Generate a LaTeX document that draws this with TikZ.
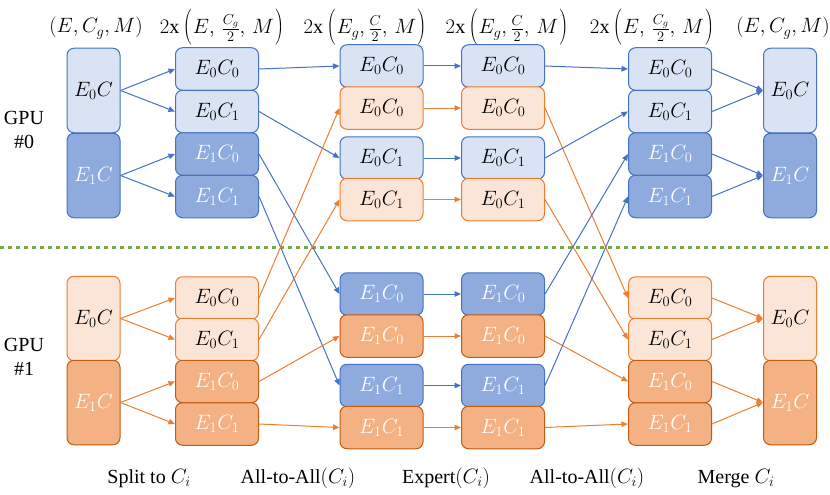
\documentclass[tikz,border=0pt]{standalone}
\usepackage{fontspec}
\setmainfont{Liberation Serif}
\usetikzlibrary{arrows.meta}
\definecolor{bl}{HTML}{4472C4}
\definecolor{lbfill}{HTML}{DAE3F3}
\definecolor{dbfill}{HTML}{8FAADC}
\definecolor{org}{HTML}{ED7D31}
\definecolor{lofill}{HTML}{FBE5D6}
\definecolor{dofill}{HTML}{F4B183}
\definecolor{dob}{HTML}{C55A11}
\definecolor{grn}{HTML}{70AD47}
\newcommand{\tallL}{\raisebox{2pt}{$\left(\vrule height 24.2pt depth 13.8pt width 0pt\right.$}}
\newcommand{\tallR}{\raisebox{2pt}{$\left.\vrule height 24.2pt depth 13.8pt width 0pt\right)$}}
\begin{document}
\begin{tikzpicture}[x=1pt,y=-1pt,
  box/.style={draw, rounded corners=7pt, line width=1pt, inner sep=0pt,
    minimum width=83pt, minimum height=42.5pt, font=\fontsize{20}{24}\selectfont},
  tall/.style={box, minimum width=53pt, minimum height=84.5pt},
  lb/.style={fill=lbfill, draw=bl, text=black},
  db/.style={fill=dbfill, draw=bl, text=white},
  lo/.style={fill=lofill, draw=org, text=black},
  do/.style={fill=dofill, draw=dob, text=white},
  ab/.style={draw=bl, line width=1pt, -{Triangle[length=6.5pt,width=5.5pt]}},
  ao/.style={draw=org, line width=1pt, -{Triangle[length=6.5pt,width=5.5pt]}},
  lbl/.style={font=\fontsize{20}{24}\selectfont, inner sep=0pt},
  hd/.style={lbl, anchor=base}
]
\useasboundingbox (0,0) rectangle (830,495);

% headers
\node[hd] (h1) at (96,33) {$(E,C_g,M)$};
\node[hd] (h2) at (222,34) {$2\mathrm{x}$\,\tallL$E,\,\frac{C_g}{2},\,M$\tallR};
\node[hd] (h3) at (365,34) {$2\mathrm{x}$\,\tallL$E_g,\frac{C}{2},\,M$\tallR};
\node[hd] (h4) at (507,34) {$2\mathrm{x}$\,\tallL$E_g,\frac{C}{2},\,M$\tallR};
\node[hd] (h5) at (652,34) {$2\mathrm{x}$\,\tallL$E,\,\frac{C_g}{2},\,M$\tallR};
\node[hd] (h6) at (783,33) {$(E,C_g,M)$};

% GPU labels
\node[lbl, align=center] (g0) at (24,130) {GPU\\\#0};
\node[lbl, align=center] (g1) at (24,357) {GPU\\\#1};

% separator
\draw[grn, line width=3pt, dash pattern=on 4pt off 4pt] (0,247) -- (830,247);

% column 1
\node[tall,lb] (a1) at (93.5,90.5) {$E_0C$};
\node[tall,db] (a2) at (93.5,175.5) {$E_1C$};
\node[tall,lo] (a3) at (93.5,318.5) {$E_0C$};
\node[tall,do] (a4) at (93.5,402.5) {$E_1C$};

% column 2
\node[box,lb] (b1) at (217,69) {$E_0C_0$};
\node[box,lb] (b2) at (217,111.5) {$E_0C_1$};
\node[box,db] (b3) at (217,154) {$E_1C_0$};
\node[box,db] (b4) at (217,196.5) {$E_1C_1$};
\node[box,lo] (b5) at (217,298) {$E_0C_0$};
\node[box,lo] (b6) at (217,339.5) {$E_0C_1$};
\node[box,do] (b7) at (217,381.5) {$E_1C_0$};
\node[box,do] (b8) at (217,424) {$E_1C_1$};

% column 3
\node[box,lb] (c1) at (381.5,66) {$E_0C_0$};
\node[box,lo] (c2) at (381.5,108) {$E_0C_0$};
\node[box,lb] (c3) at (381.5,158) {$E_0C_1$};
\node[box,lo] (c4) at (381.5,199.5) {$E_0C_1$};
\node[box,db] (c5) at (381.5,294) {$E_1C_0$};
\node[box,do] (c6) at (381.5,336) {$E_1C_0$};
\node[box,db] (c7) at (381.5,385.5) {$E_1C_1$};
\node[box,do] (c8) at (381.5,427.5) {$E_1C_1$};

% column 4
\node[box,lb] (d1) at (503,66) {$E_0C_0$};
\node[box,lo] (d2) at (503,108) {$E_0C_0$};
\node[box,lb] (d3) at (503,158) {$E_0C_1$};
\node[box,lo] (d4) at (503,199.5) {$E_0C_1$};
\node[box,db] (d5) at (503,294) {$E_1C_0$};
\node[box,do] (d6) at (503,336) {$E_1C_0$};
\node[box,db] (d7) at (503,385.5) {$E_1C_1$};
\node[box,do] (d8) at (503,427.5) {$E_1C_1$};

% column 5
\node[box,lb] (e1) at (670,69) {$E_0C_0$};
\node[box,lb] (e2) at (670,111.5) {$E_0C_1$};
\node[box,db] (e3) at (670,154) {$E_1C_0$};
\node[box,db] (e4) at (670,196.5) {$E_1C_1$};
\node[box,lo] (e5) at (670,298) {$E_0C_0$};
\node[box,lo] (e6) at (670,339.5) {$E_0C_1$};
\node[box,do] (e7) at (670,381.5) {$E_1C_0$};
\node[box,do] (e8) at (670,424) {$E_1C_1$};

% column 6
\node[tall,lb] (f1) at (790,90.5) {$E_0C$};
\node[tall,db] (f2) at (790,175.5) {$E_1C$};
\node[tall,lo] (f3) at (790,318.5) {$E_0C$};
\node[tall,do] (f4) at (790,402.5) {$E_1C$};

% bottom labels
\node[hd] (l1) at (149,483) {Split to $C_i$};
\node[hd] (l2) at (298,483) {All-to-All$(C_i)$};
\node[hd] (l3) at (446,483) {Expert$(C_i)$};
\node[hd] (l4) at (587,483) {All-to-All$(C_i)$};
\node[hd] (l5) at (736,483) {Merge $C_i$};

% split
\draw[ab] (a1.east) -- (b1.west);
\draw[ab] (a1.east) -- (b2.west);
\draw[ab] (a2.east) -- (b3.west);
\draw[ab] (a2.east) -- (b4.west);
\draw[ao] (a3.east) -- (b5.west);
\draw[ao] (a3.east) -- (b6.west);
\draw[ao] (a4.east) -- (b7.west);
\draw[ao] (a4.east) -- (b8.west);

% all-to-all 1
\draw[ab] (b1.east) -- (c1.west);
\draw[ab] (b2.east) -- (c3.west);
\draw[ab] (b3.east) -- (c5.west);
\draw[ab] (b4.east) -- (c7.west);
\draw[ao] (b5.east) -- (c2.west);
\draw[ao] (b6.east) -- (c4.west);
\draw[ao] (b7.east) -- (c6.west);
\draw[ao] (b8.east) -- (c8.west);

% expert
\draw[ab] (c1.east) -- (d1.west);
\draw[ao] (c2.east) -- (d2.west);
\draw[ab] (c3.east) -- (d3.west);
\draw[ao] (c4.east) -- (d4.west);
\draw[ab] (c5.east) -- (d5.west);
\draw[ao] (c6.east) -- (d6.west);
\draw[ab] (c7.east) -- (d7.west);
\draw[ao] (c8.east) -- (d8.west);

% all-to-all 2
\draw[ab] (d1.east) -- (e1.west);
\draw[ao] (d2.east) -- (e5.west);
\draw[ab] (d3.east) -- (e2.west);
\draw[ao] (d4.east) -- (e6.west);
\draw[ab] (d5.east) -- (e3.west);
\draw[ao] (d6.east) -- (e7.west);
\draw[ab] (d7.east) -- (e4.west);
\draw[ao] (d8.east) -- (e8.west);

% merge
\draw[ab] (e1.east) -- (f1.west);
\draw[ab] (e2.east) -- (f1.west);
\draw[ab] (e3.east) -- (f2.west);
\draw[ab] (e4.east) -- (f2.west);
\draw[ao] (e5.east) -- (f3.west);
\draw[ao] (e6.east) -- (f3.west);
\draw[ao] (e7.east) -- (f4.west);
\draw[ao] (e8.east) -- (f4.west);
\end{tikzpicture}
\end{document}
